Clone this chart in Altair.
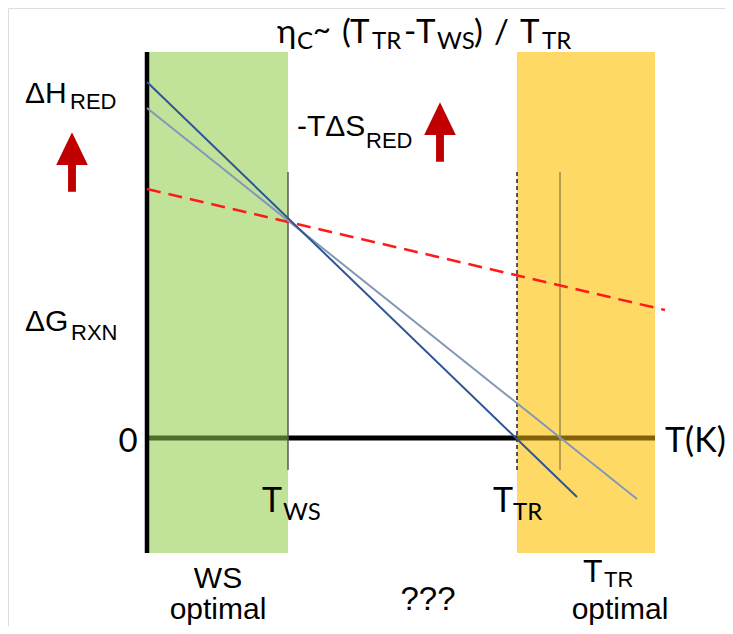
import altair as alt
import pandas as pd

# Schematic units: T (x) measured from the ΔG axis, ΔG (y) measured from the zero line
X_DOMAIN = [-139, 578]
Y_DOMAIN = [-188, 430]

# shaded regions
band_names = ["WS optimal", "TTR optimal"]
band_x1 = [0, 370]
band_x2 = [141, 508]
band_y1 = [-115, -115]
band_y2 = [386, 386]
band_colors = ["#C0E399", "#FFD966"]

# zero line segments (tinted where they cross the bands)
zero_x1 = [0, 141, 370]
zero_x2 = [141, 370, 508]
zero_colors = ["#4E6E2E", "#000000", "#806208"]

# straight lines: two ΔG(T) lines through T_WS and the entropy (-TΔS) line
dark_T = [0, 430]
dark_G = [356, -59]
light_T = [0, 490]
light_G = [330, -61]
red_T = [0, 518]
red_G = [249, 128]

# vertical markers
vert_T = [141, 413]
vert_colors = ["#5A5A50", "#9C8A45"]
vert_top = 266
vert_bottom = -32
dash_T = 370

axis_top = 386
axis_bottom = -115

# text pieces (x, y, text, size)
title_x = [130, 150, 166, 195, 203, 225, 257, 269, 290, 327, 347, 373, 395]
title_y = [395, 389, 398, 395, 395, 389, 395, 395, 389, 395, 395, 395, 389]
title_t = ["η", "C", "~", "(", "T", "TR", "-", "T", "WS", ")", "/", "T", "TR"]
title_s = [33, 24, 31, 33, 33, 24, 33, 33, 24, 33, 33, 33, 24]

calibri_x = [518, 115, 136, 346, 366]
calibri_y = [-14, -74, -82, -74, -82]
calibri_t = ["T(K)", "T", "WS", "T", "TR"]
calibri_s = [34, 34, 24, 34, 24]

calibri_c_x = [-19]
calibri_c_y = [-14]
calibri_c_t = ["0"]
calibri_c_s = [33]

arial_x = [-122, -77, 150, 219, -122, -76, 436, 457]
arial_y = [335, 329, 302, 290, 107, 98, -144, -149]
arial_t = ["ΔH", "RED", "-TΔS", "RED", "ΔG", "RXN", "T", "TR"]
arial_s = [30, 22, 30, 22, 30, 22, 32, 22]

arial_c_x = [71, 71, 281, 473]
arial_c_y = [-150, -181, -172, -181]
arial_c_t = ["WS", "optimal", "???", "optimal"]
arial_c_s = [30, 30, 33, 30]

arrow_x = [-75, 293]
arrow_y = [276, 306]

xs = alt.Scale(domain=X_DOMAIN, nice=False, zero=False)
ys = alt.Scale(domain=Y_DOMAIN, nice=False, zero=False)

def X(f="x"):
    return alt.X(f"{f}:Q", scale=xs, axis=None)

def Y(f="y"):
    return alt.Y(f"{f}:Q", scale=ys, axis=None)

bands = pd.DataFrame({"name": band_names, "x": band_x1, "x2": band_x2,
                      "y": band_y1, "y2": band_y2, "c": band_colors})
band_layer = alt.Chart(bands).mark_rect().encode(
    x=X(), x2="x2:Q", y=Y(), y2="y2:Q",
    color=alt.Color("c:N", scale=None))

zeros = pd.DataFrame({"x": zero_x1, "x2": zero_x2, "y": [0] * 3, "c": zero_colors})
zero_layer = alt.Chart(zeros).mark_rule(strokeWidth=5).encode(
    x=X(), x2="x2:Q", y=Y(), color=alt.Color("c:N", scale=None))

axis_df = pd.DataFrame({"x": [0], "y": [axis_bottom], "y2": [axis_top]})
axis_layer = alt.Chart(axis_df).mark_rule(strokeWidth=4.5, color="#000000").encode(
    x=X(), y=Y(), y2="y2:Q")

verts = pd.DataFrame({"x": vert_T, "y": [vert_bottom] * 2, "y2": [vert_top] * 2, "c": vert_colors})
vert_layer = alt.Chart(verts).mark_rule(strokeWidth=1.5).encode(
    x=X(), y=Y(), y2="y2:Q", color=alt.Color("c:N", scale=None))

dash_df = pd.DataFrame({"x": [dash_T], "y": [vert_bottom], "y2": [vert_top]})
dash_layer = alt.Chart(dash_df).mark_rule(strokeWidth=1.5, color="#222222",
                                          strokeDash=[4, 3]).encode(
    x=X(), y=Y(), y2="y2:Q")

def line(ts, gs, color, width, dash=None):
    df = pd.DataFrame({"x": ts, "y": gs})
    kw = dict(color=color, strokeWidth=width)
    if dash:
        kw["strokeDash"] = dash
    return alt.Chart(df).mark_line(**kw).encode(x=X(), y=Y())

light_layer = line(light_T, light_G, "#8398B5", 2)
dark_layer = line(dark_T, dark_G, "#2F5597", 2)
red_layer = line(red_T, red_G, "#FF1A1A", 2.5, [14, 8])

arrow1 = "M0,-1.875 L1,0.19 L0.25,0.19 L0.25,1.875 L-0.25,1.875 L-0.25,0.19 L-1,0.19 Z"
arrows = pd.DataFrame({"x": arrow_x, "y": arrow_y})
arrow_layer = alt.Chart(arrows).mark_point(shape=arrow1, filled=True, color="#C00000",
                                           opacity=1, size=1000).encode(x=X(), y=Y())

def texts(xv, yv, tv, sv, font, align):
    df = pd.DataFrame({"x": xv, "y": yv, "t": tv, "s": sv})
    return alt.Chart(df).mark_text(font=font, align=align, baseline="alphabetic",
                                   color="#000000").encode(
        x=X(), y=Y(), text="t:N", size=alt.Size("s:Q", scale=None, legend=None))

CAL = "Lato"
ARI = "Liberation Sans"
t1 = texts(title_x, title_y, title_t, title_s, CAL, "left")
t2 = texts(calibri_x, calibri_y, calibri_t, calibri_s, CAL, "left")
t3 = texts(calibri_c_x, calibri_c_y, calibri_c_t, calibri_c_s, CAL, "center")
t4 = texts(arial_x, arial_y, arial_t, arial_s, ARI, "left")
t5 = texts(arial_c_x, arial_c_y, arial_c_t, arial_c_s, ARI, "center")

chart = alt.layer(
    band_layer, zero_layer, vert_layer, dash_layer, axis_layer,
    red_layer, light_layer, dark_layer, arrow_layer, t1, t2, t3, t4, t5
).properties(
    width=717, height=618, padding=0,
    autosize=alt.AutoSizeParams(type="none")
).configure_view(stroke=None).configure(background="white")

chart.save("out.html", embed_options={"renderer": "svg", "actions": False})
